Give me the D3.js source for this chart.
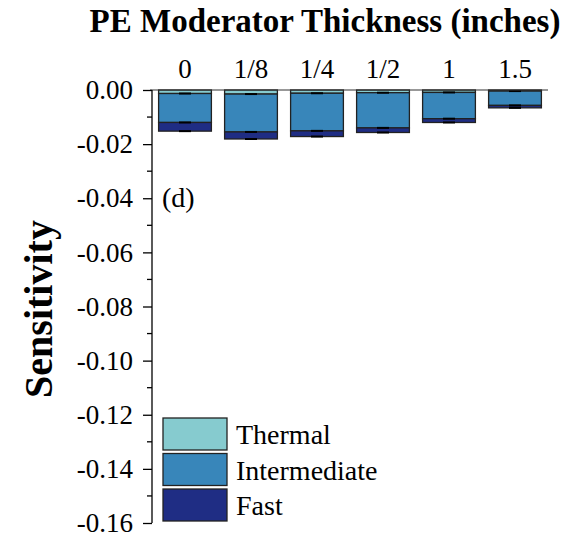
<!DOCTYPE html>
<html>
<head>
<meta charset="utf-8">
<script src="https://cdn.jsdelivr.net/npm/d3@7"></script>
<style>
  html, body { margin: 0; padding: 0; background: #fff; }
  svg { display: block; font-family: "Liberation Serif", "Times New Roman", serif; }
</style>
</head>
<body>
<svg id="chart" width="580" height="536"></svg>
<script>
// PE moderator thickness categories (inches)
const categories = ["0", "1/8", "1/4", "1/2", "1", "1.5"];
// Sensitivity contribution of each energy group
const thermal      = [-0.0013, -0.0015, -0.0012, -0.0010, -0.0009, -0.0004];
const intermediate = [-0.0107, -0.0140, -0.0139, -0.0130, -0.0097, -0.0053];
const fast         = [-0.0032, -0.0026, -0.0021, -0.0017, -0.0014, -0.0009];
const seriesNames  = ["Thermal", "Intermediate", "Fast"];
const yTicks       = [0, -0.02, -0.04, -0.06, -0.08, -0.10, -0.12, -0.14, -0.16];
const colors       = ["#86cbcf", "#3886ba", "#1f2d84"];

const svg = d3.select("#chart");
const plotLeft = 152, plotRight = 548, plotTop = 90, plotBottom = 523;

const x = d3.scaleBand().domain(categories).range([plotLeft, plotRight]).paddingInner(0.2).paddingOuter(0.1);
const y = d3.scaleLinear().domain([0, -0.16]).range([plotTop, plotBottom]);

// Stack the groups downward from zero: thermal, then intermediate, then fast
const rows = categories.map((c, i) => ({ cat: c, Thermal: -thermal[i], Intermediate: -intermediate[i], Fast: -fast[i] }));
const stacked = d3.stack().keys(seriesNames)(rows);

const g = svg.append("g");
stacked.forEach((layer, k) => {
  g.selectAll(null).data(layer).enter().append("rect")
    .attr("x", d => x(d.data.cat))
    .attr("width", x.bandwidth())
    .attr("y", d => y(-d[0]))
    .attr("height", d => y(-d[1]) - y(-d[0]))
    .attr("fill", colors[k])
    .attr("stroke", "#222")
    .attr("stroke-width", 1.3);
});
// small error caps at the end of each segment
stacked.forEach(layer => {
  g.selectAll(null).data(layer).enter().append("line")
    .attr("x1", d => x(d.data.cat) + x.bandwidth() / 2 - 6)
    .attr("x2", d => x(d.data.cat) + x.bandwidth() / 2 + 6)
    .attr("y1", d => y(-d[1]))
    .attr("y2", d => y(-d[1]))
    .attr("stroke", "#000")
    .attr("stroke-width", 2);
});

// Zero line along the top
svg.append("line")
  .attr("x1", plotLeft - 2).attr("x2", plotRight)
  .attr("y1", y(0)).attr("y2", y(0))
  .attr("stroke", "#333").attr("stroke-width", 1.2);

// Left axis with minor ticks
const yAxis = d3.axisLeft(y).tickValues(yTicks).tickSize(9).tickPadding(10)
  .tickFormat(d => d3.format(".2f")(d).replace("−", "-"));
const ya = svg.append("g").attr("transform", `translate(${plotLeft},0)`).call(yAxis);
ya.attr("font-family", null).attr("font-size", null);
ya.select(".domain").attr("stroke", "#000").attr("stroke-width", 1.3).attr("d", `M0,${plotTop}V${plotBottom}`);
ya.selectAll(".tick line").attr("stroke", "#000").attr("stroke-width", 1.3);
ya.selectAll(".tick text").attr("font-size", 27).attr("fill", "#000").attr("dy", "0.32em");
const minor = d3.range(0, 8).map(i => -0.01 - 0.02 * i);
svg.append("g").selectAll("line").data(minor).enter().append("line")
  .attr("x1", plotLeft - 5).attr("x2", plotLeft)
  .attr("y1", d => y(d)).attr("y2", d => y(d))
  .attr("stroke", "#000").attr("stroke-width", 1.3);

// Category labels on top
svg.append("g").selectAll("text").data(categories).enter().append("text")
  .attr("x", d => x(d) + x.bandwidth() / 2)
  .attr("y", 78)
  .attr("text-anchor", "middle")
  .attr("font-size", 27)
  .text(d => d);

// Titles
svg.append("text").attr("x", 325).attr("y", 32).attr("text-anchor", "middle")
  .attr("font-size", 33).attr("font-weight", "bold").text("PE Moderator Thickness (inches)");
svg.append("text").attr("transform", "translate(52,309) rotate(-90)").attr("text-anchor", "middle")
  .attr("font-size", 40).attr("font-weight", "bold").text("Sensitivity");

svg.append("text").attr("x", 162).attr("y", 207).attr("font-size", 28).text("(d)");

// Legend
const legend = svg.append("g").attr("transform", "translate(163,418)");
seriesNames.forEach((name, i) => {
  const row = legend.append("g").attr("transform", `translate(0,${i * 35.5})`);
  row.append("rect").attr("width", 64).attr("height", 32)
    .attr("fill", colors[i]).attr("stroke", "#222").attr("stroke-width", 1.3);
  row.append("text").attr("x", 73).attr("y", 26).attr("font-size", 28).text(name);
});
</script>
</body>
</html>
